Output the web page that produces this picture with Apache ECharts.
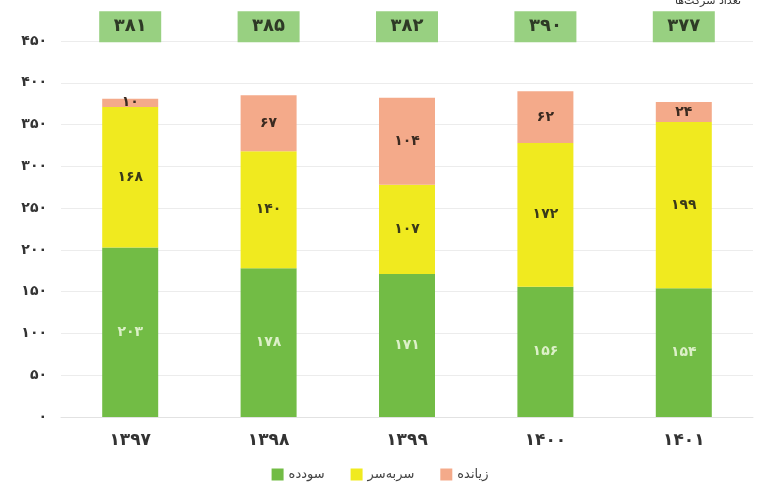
<!DOCTYPE html>
<html>
<head>
<meta charset="utf-8">
<script src="https://cdn.jsdelivr.net/npm/echarts@6/dist/echarts.min.js"></script>
<style>
  html, body { margin: 0; padding: 0; background: #fff; }
  #chart { width: 760px; height: 488px; }
</style>
</head>
<body>
<div id="chart"></div>
<script>
// data
const years = [1397, 1398, 1399, 1400, 1401];
const profit = [203, 178, 171, 156, 154];      // سودده
const breakEven = [168, 140, 107, 172, 199];   // سربه‌سر
const loss = [10, 67, 104, 62, 24];            // زیانده
const totals = [381, 385, 382, 390, 377];

const BOX_Y = 467; // where the total boxes sit, above the 450 line

function fa(n) {
  return String(n).replace(/\d/g, d => '۰۱۲۳۴۵۶۷۸۹'[d]);
}

const font = 'DejaVu Sans';
const chart = echarts.init(document.getElementById('chart'));

const segLabel = (color) => ({
  show: true,
  position: 'inside',
  color: color,
  fontFamily: font,
  fontWeight: 'bold',
  fontSize: 14,
  formatter: p => fa(p.value)
});

chart.setOption({
  animation: false,
  color: ['#72bc45', '#f0ea1f', '#f4aa8a'],
  title: {
    text: 'تعداد شرکت‌ها',
    right: 14,
    top: -9,
    textStyle: { fontSize: 11, fontFamily: font, color: '#333', fontWeight: 'normal' }
  },
  grid: { left: 61, right: 7, top: 41, bottom: 71 },
  legend: {
    bottom: 2,
    left: 'center',
    itemWidth: 12,
    itemHeight: 12,
    itemGap: 26,
    icon: 'rect',
    data: ['سودده', 'سربه‌سر', 'زیانده'],
    textStyle: { fontFamily: font, fontSize: 13, color: '#444' }
  },
  xAxis: {
    type: 'category',
    data: years,
    axisTick: { show: false },
    axisLine: { lineStyle: { color: '#e2e2e2' } },
    axisLabel: {
      margin: 15,
      color: '#333',
      fontFamily: font,
      fontWeight: 'bold',
      fontSize: 17,
      formatter: v => fa(v)
    }
  },
  yAxis: {
    type: 'value',
    min: 0,
    max: 450,
    interval: 50,
    axisLine: { show: false },
    axisTick: { show: false },
    splitLine: { lineStyle: { color: '#ececec' } },
    axisLabel: {
      margin: 14,
      color: '#333',
      fontFamily: font,
      fontWeight: 'bold',
      fontSize: 14,
      formatter: v => fa(v)
    }
  },
  series: [
    {
      name: 'سودده', type: 'bar', stack: 'a', barWidth: 56,
      data: profit, label: segLabel('#dcf0c8')
    },
    {
      name: 'سربه‌سر', type: 'bar', stack: 'a',
      data: breakEven, label: segLabel('#3a3a1a')
    },
    {
      name: 'زیانده', type: 'bar', stack: 'a',
      data: loss, label: segLabel('#3a2a20')
    },
    {
      name: 'total', type: 'scatter', clip: false,
      symbol: 'rect', symbolSize: [62, 31],
      itemStyle: { color: '#98d081', opacity: 1 },
      data: totals.map((t, i) => ({ value: [i, BOX_Y], total: t })),
      label: {
        show: true,
        position: 'inside',
        color: '#2e3a26',
        fontFamily: font,
        fontWeight: 'bold',
        fontSize: 18,
        formatter: p => fa(p.data.total)
      },
      silent: true
    }
  ]
});
</script>
</body>
</html>
